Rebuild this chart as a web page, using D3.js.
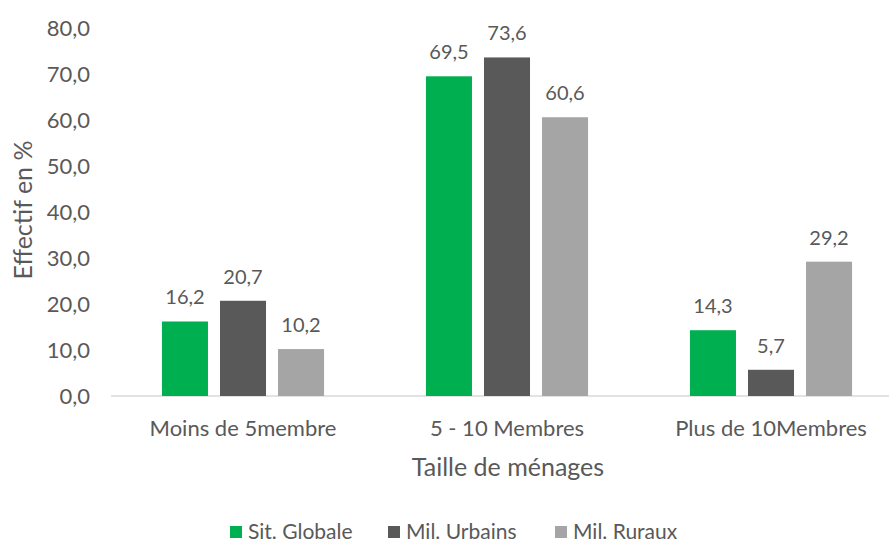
<!DOCTYPE html>
<html>
<head>
<meta charset="utf-8">
<script src="https://cdn.jsdelivr.net/npm/d3@7"></script>
<style>
  body { margin: 0; background: #fff; }
  text { font-family: Lato, "Open Sans", sans-serif; fill: #595959; }
</style>
</head>
<body>
<svg id="chart" width="889" height="544"></svg>
<script>
// categories and series
let categories = ["Moins de 5membre", "5 - 10 Membres", "Plus de 10Membres"];
let seriesNames = ["Sit. Globale", "Mil. Urbains", "Mil. Ruraux"];
let globale = [16.2, 69.5, 14.3];
let urbains = [20.7, 73.6, 5.7];
let ruraux = [10.2, 60.6, 29.2];
let yTicks = [0, 10, 20, 30, 40, 50, 60, 70, 80];

let colors = ["#00B050", "#595959", "#A5A5A5"];
let values = [globale, urbains, ruraux];

let fr = d3.formatLocale({decimal: ",", thousands: " ", grouping: [3], currency: ["", "€"]});
let fmt = fr.format(".1f");

let svg = d3.select("#chart");

let x0 = d3.scaleBand().domain(categories).range([111, 903])
    .paddingInner(0.386).paddingOuter(0.193);
let x1 = d3.scaleBand().domain(seriesNames).range([0, x0.bandwidth()])
    .paddingInner(0.207);
let y = d3.scaleLinear().domain([0, 80]).range([396, 28]);

// y axis labels (no line)
let yAxis = d3.axisLeft(y).tickValues(yTicks).tickFormat(fmt).tickSize(0).tickPadding(0);
svg.append("g")
    .attr("transform", "translate(90,0)")
    .call(yAxis)
    .call(g => g.select(".domain").remove())
    .selectAll("text")
    .style("font-size", "22px")
    .attr("fill", "#595959");

// baseline
svg.append("line")
    .attr("x1", 111).attr("x2", 889)
    .attr("y1", y(0)).attr("y2", y(0))
    .style("stroke", "#D9D9D9").style("stroke-width", 1.5);

// bars
let groups = svg.append("g").selectAll("g")
    .data(categories)
    .enter().append("g")
    .attr("transform", function(d) { return "translate(" + x0(d) + ",0)"; });

function rows(d, i) {
    return seriesNames.map(function(s, j) { return {s: s, j: j, v: values[j][i]}; });
}

groups.selectAll("rect")
    .data(rows)
    .enter().append("rect")
    .attr("x", function(d) { return x1(d.s); })
    .attr("y", function(d) { return y(d.v); })
    .attr("width", x1.bandwidth())
    .attr("height", function(d) { return y(0) - y(d.v); })
    .attr("fill", function(d) { return colors[d.j]; });

groups.selectAll("text.lbl")
    .data(rows)
    .enter().append("text")
    .attr("class", "lbl")
    .attr("x", function(d) { return x1(d.s) + x1.bandwidth() / 2; })
    .attr("y", function(d) { return y(d.v) - 17; })
    .attr("text-anchor", "middle")
    .style("font-size", "20px")
    .text(function(d) { return fmt(d.v); });

// category labels
let xAxis = d3.axisBottom(x0).tickSize(0).tickPadding(0);
svg.append("g")
    .attr("transform", "translate(0,436)")
    .call(xAxis)
    .call(g => g.select(".domain").remove())
    .selectAll("text")
    .attr("dy", 0)
    .style("font-size", "22px")
    .attr("fill", "#595959");

// axis titles
svg.append("text")
    .attr("x", 508).attr("y", 476)
    .attr("text-anchor", "middle")
    .style("font-size", "25px")
    .text("Taille de ménages");

svg.append("text")
    .attr("transform", "translate(32,210) rotate(-90)")
    .attr("text-anchor", "middle")
    .style("font-size", "25px")
    .text("Effectif en %");

// legend
let legendX = [230, 388, 555];
let legend = svg.append("g").selectAll("g")
    .data(seriesNames)
    .enter().append("g")
    .attr("transform", function(d, i) { return "translate(" + legendX[i] + ",532)"; });
legend.append("rect")
    .attr("x", 0).attr("y", -6)
    .attr("width", 12).attr("height", 12)
    .attr("fill", function(d, i) { return colors[i]; });
legend.append("text")
    .attr("x", 18).attr("y", 7)
    .style("font-size", "21px")
    .text(function(d) { return d; });
</script>
</body>
</html>
